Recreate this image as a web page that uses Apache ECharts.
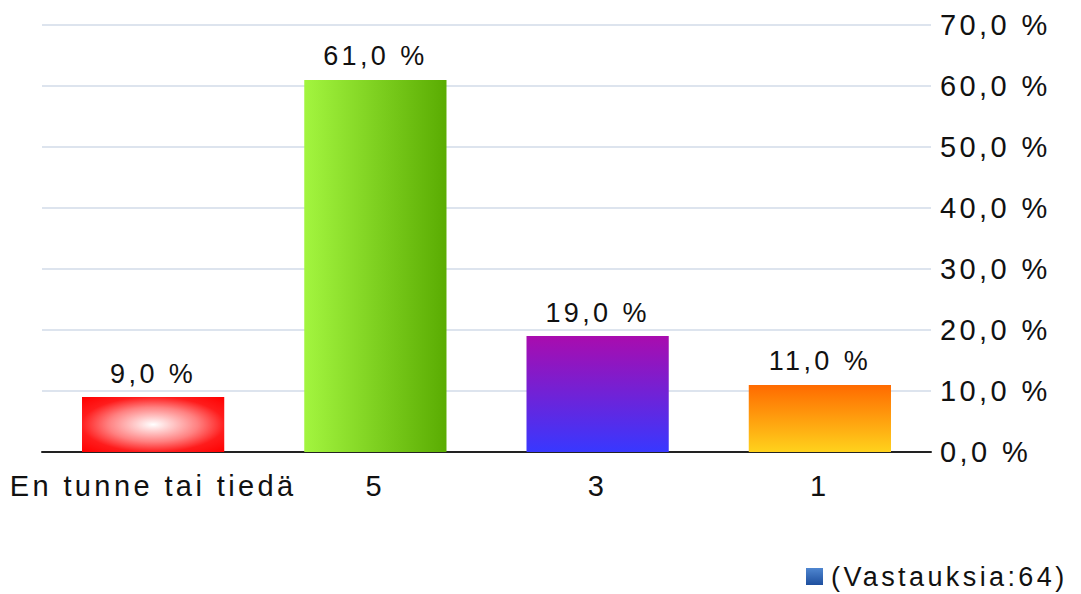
<!DOCTYPE html>
<html>
<head>
<meta charset="utf-8">
<script src="https://cdn.jsdelivr.net/npm/echarts@6/dist/echarts.min.js"></script>
<style>
  html, body { margin: 0; padding: 0; background: #ffffff; }
  #chart { width: 1081px; height: 594px; }
  #chart text { letter-spacing: 3.4px; }
</style>
</head>
<body>
<div id="chart"></div>
<script>
// Answer shares per option
const categories = ['En tunne tai tiedä', '5', '3', '1'];
const shares = [9.0, 61.0, 19.0, 11.0];
const seriesName = '(Vastauksia:64)';
const yMin = 0, yMax = 70, yStep = 10;

const pct = v => v.toFixed(1).replace('.', ',') + ' %';

// One fill per bar
const fills = [
  new echarts.graphic.RadialGradient(0.5, 0.5, 0.7, [
    { offset: 0, color: '#ffffff' },
    { offset: 0.45, color: '#ff8080' },
    { offset: 0.72, color: '#ff1c1c' },
    { offset: 1, color: '#ff0000' }
  ]),
  new echarts.graphic.LinearGradient(0, 0, 1, 0, [
    { offset: 0, color: '#a3f53f' },
    { offset: 1, color: '#5aac02' }
  ]),
  new echarts.graphic.LinearGradient(0, 0, 0, 1, [
    { offset: 0, color: '#a90cae' },
    { offset: 1, color: '#3838ff' }
  ]),
  new echarts.graphic.LinearGradient(0, 0, 0, 1, [
    { offset: 0, color: '#ff6a00' },
    { offset: 1, color: '#ffd21c' }
  ])
];

const chart = echarts.init(document.getElementById('chart'), null, { renderer: 'svg' });
const font = '"Liberation Sans", Arial, sans-serif';

chart.setOption({
  animation: false,
  textStyle: { fontFamily: font },
  grid: { left: 42, right: 150, top: 25, bottom: 142, containLabel: false },
  legend: {
    left: 806,
    top: 563,
    padding: 0,
    itemWidth: 17,
    itemHeight: 17,
    icon: 'rect',
    textStyle: { fontSize: 27, color: '#111111', fontFamily: font, padding: [0, 0, 0, 3] },
    data: [{
      name: seriesName,
      itemStyle: {
        color: new echarts.graphic.LinearGradient(0, 0, 0, 1, [
          { offset: 0, color: '#4f86d0' },
          { offset: 1, color: '#1e4f9e' }
        ])
      }
    }]
  },
  xAxis: {
    type: 'category',
    data: categories,
    axisLine: { lineStyle: { color: '#222222', width: 2 } },
    axisTick: { show: false },
    axisLabel: { fontSize: 29, color: '#111111', margin: 19, fontFamily: font, interval: 0 }
  },
  yAxis: {
    type: 'value',
    position: 'right',
    min: yMin,
    max: yMax,
    interval: yStep,
    axisLine: { show: false },
    axisTick: { show: false },
    splitLine: { lineStyle: { color: '#dde4ee', width: 2 } },
    axisLabel: { fontSize: 29, color: '#111111', margin: 9, fontFamily: font, formatter: v => pct(v) }
  },
  series: [{
    name: seriesName,
    type: 'bar',
    barCategoryGap: '36%',
    data: shares.map((v, i) => ({ value: v, itemStyle: { color: fills[i] } })),
    label: {
      show: true,
      position: 'top',
      distance: 10,
      fontSize: 27,
      color: '#111111',
      fontFamily: font,
      formatter: p => pct(p.value)
    }
  }]
});
</script>
</body>
</html>
